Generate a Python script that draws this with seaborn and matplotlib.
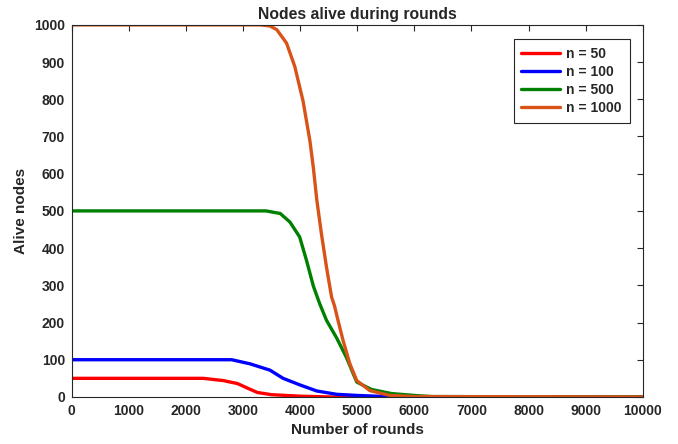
import pandas as pd
import numpy as np
import seaborn as sns
import matplotlib.pyplot as plt

# Values (rounds vs. nodes still alive)
rounds_50 = [0, 2300, 2650, 2900, 3100, 3250, 3500, 4000, 4500, 10000]
alive_50 = [50, 50, 44, 36, 22, 12, 6, 2, 0, 0]

rounds_100 = [0, 2800, 3120, 3470, 3700, 4000, 4290, 4640, 5000, 5500, 6000, 10000]
alive_100 = [100, 100, 89, 72, 50, 32, 16, 7, 4, 1, 0, 0]

rounds_500 = [0, 3400, 3650, 3820, 3990, 4110, 4230, 4340, 4460, 4640, 4810,
              4990, 5250, 5600, 6000, 6300, 10000]
alive_500 = [500, 500, 493, 470, 430, 367, 298, 251, 206, 158, 106,
             40, 20, 9, 4, 1, 0]

rounds_1000 = [0, 3300, 3470, 3590, 3760, 3905, 4050, 4170, 4230, 4290, 4370,
               4460, 4550, 4600, 4660, 4750, 4870, 4990, 5220, 5570, 6000, 10000]
alive_1000 = [1000, 1000, 997, 987, 951, 888, 795, 688, 616, 530, 440,
              349, 268, 245, 207, 152, 89, 44, 17, 4, 1, 0]

labels = ["n = 50", "n = 100", "n = 500", "n = 1000"]
colors = ["#FF0000", "#0000FF", "#008000", "#D95319"]

x_ticks = list(range(0, 10001, 1000))
y_ticks = list(range(0, 1001, 100))

# Build long table for seaborn
frames = []
for lab, xs, ys in zip(labels,
                       [rounds_50, rounds_100, rounds_500, rounds_1000],
                       [alive_50, alive_100, alive_500, alive_1000]):
    frames.append(pd.DataFrame({"rounds": xs, "alive": ys, "series": lab}))
df = pd.concat(frames, ignore_index=True)

sns.set_style("white")
plt.rcParams["font.family"] = ["Liberation Sans", "DejaVu Sans"]

fig = plt.figure(figsize=(6.78, 4.44), dpi=100)
ax = fig.add_axes([0.106, 0.106, 0.842, 0.838])

sns.lineplot(data=df, x="rounds", y="alive", hue="series", hue_order=labels,
             palette=colors, linewidth=2.4, ax=ax, estimator=None, sort=False)

ax.set_xlim(0, 10000)
ax.set_ylim(0, 1000)
ax.set_xticks(x_ticks)
ax.set_yticks(y_ticks)
ax.set_xticklabels([str(t) for t in x_ticks], fontweight="bold", fontsize=10, color="#262626")
ax.set_yticklabels([str(t) for t in y_ticks], fontweight="bold", fontsize=10, color="#262626")
ax.tick_params(direction="in", top=True, right=True, length=4, width=0.8,
               color="#262626", pad=5)
for s in ax.spines.values():
    s.set_color("#262626")
    s.set_linewidth(0.8)

ax.set_title("Nodes alive during rounds", fontweight="bold", fontsize=11.3, pad=4)
ax.set_xlabel("Number of rounds", fontweight="bold", fontsize=11, color="#262626")
ax.set_ylabel("Alive nodes", fontweight="bold", fontsize=11, color="#262626")

leg = ax.legend(loc="upper right", bbox_to_anchor=(0.977, 0.962), borderaxespad=0,
                fancybox=False, edgecolor="#262626", framealpha=1, handlelength=2.8,
                handletextpad=0.45, prop={"weight": "bold", "size": 10},
                borderpad=0.55, labelspacing=0.3)
leg.get_frame().set_linewidth(0.8)

fig.savefig("out.png", dpi=100)
